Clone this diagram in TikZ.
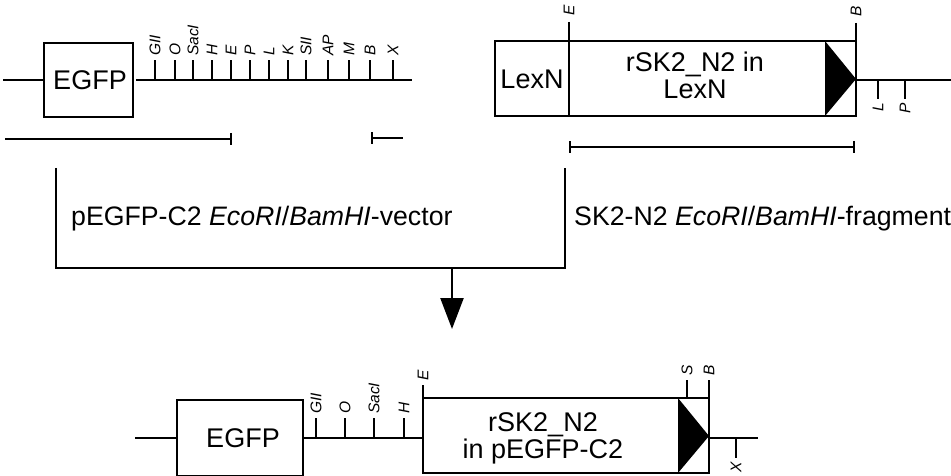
\documentclass[tikz,border=0pt]{standalone}
\usepackage{fontspec}
\setmainfont{Liberation Sans}
\usetikzlibrary{arrows.meta}
\tikzset{
    partbox/.style={draw,line width=2.4pt,inner sep=0pt,outer sep=0pt,font=\fontsize{27}{29}\selectfont,align=center},
    sitelabel/.style={font=\fontsize{15.5}{17}\selectfont\itshape,rotate=90,inner sep=3pt},
    captionlabel/.style={font=\fontsize{26.7}{30}\selectfont,inner sep=0pt,anchor=west}
}
\begin{document}
\begin{tikzpicture}[x=1pt,y=-1pt,line width=2.4pt]
    \useasboundingbox (0,0) rectangle (951,476);
    % The vector
    \node [partbox,minimum width=89pt,minimum height=74pt] (egfp top) at (88.5,80) {\hspace{3pt}EGFP};
    \coordinate (vector start) at (3,80);
    \coordinate (vector end) at (412,80);
    \draw (vector start) -- (egfp top.west);
    \draw (egfp top.east) ++(3,0) -- (vector end);
    \foreach \x/\name in {155/GII,175/O,193/SacI,212/H,231/E,250/P,269/L,288/K,306/SII,328/AP,349/M,370/B,393/X}
        \draw (\x,80) -- (\x,60)
            node [sitelabel,anchor=west] (top \name) {\name};
    % Kept parts of the vector
    \draw [{|[width=12pt]}-{|[width=0pt]}] (232,139) coordinate (cut left) -- (3,139) coordinate (cut start);
    \draw [{|[width=12pt]}-{|[width=0pt]}] (371,138) coordinate (cut right) -- (405,138) coordinate (cut stop);
    % The insert
    \node [partbox,minimum width=361pt,minimum height=75pt] (lexn) at (675.5,78.5) {};
    \node [partbox,draw=none] (lexn name) at (532,79) {LexN};
    \node [partbox,draw=none] (insert name) at (695,75) {rSK2\_N2 in\\[-2pt]LexN};
    \fill (825,41) -- (856,79) -- (825,116) -- cycle;
    \draw (569,22) -- (569,116);
    \draw (856,23) -- (856,116);
    \node [sitelabel,anchor=west] (lexn E) at (569,20) {E};
    \node [sitelabel,anchor=west] (lexn B) at (856,21) {B};
    \coordinate (lexn end) at (951,80);
    \draw (856,80) -- (lexn end);
    \foreach \x/\name in {878/L,905/P}
        \draw (\x,80) -- (\x,99)
            node [sitelabel,anchor=east] (lexn \name) {\name};
    % The fragment
    \draw [{|[width=12pt]}-{|[width=12pt]}] (569,147) coordinate (frag left) -- (855,147) coordinate (frag right);
    % Joining the two
    \coordinate (join left) at (56,168);
    \coordinate (join right) at (565,168);
    \draw (join left) |- (300,268) -| (join right);
    \node [captionlabel] (vector text) at (70,219) {pEGFP-C2 \textit{EcoRI}/\textit{BamHI}-vector};
    \node [captionlabel] (fragment text) at (573,219) {SK2-N2 \textit{EcoRI}/\textit{BamHI}-fragment};
    \coordinate (join mid) at (452,268);
    \coordinate (join tip) at (452,329);
    \draw [-{Triangle[width=23pt,length=31pt]}] (join mid) -- (join tip);
    % The result
    \node [partbox,minimum width=126pt,minimum height=76pt] (egfp low) at (240,438) {\hspace{6pt}EGFP};
    \node [partbox,minimum width=286pt,minimum height=75pt] (result) at (566,435.5) {};
    \node [partbox,draw=none] (result name) at (543,438) {rSK2\_N2\\[-2pt]in pEGFP-C2};
    \fill (678,398) -- (709,436) -- (678,473) -- cycle;
    \coordinate (result start) at (135,438);
    \coordinate (result end) at (758,438);
    \draw (result start) -- (egfp low.west);
    \draw (egfp low.east) -- (result.west |- egfp low);
    \draw (result.east |- egfp low) -- (result end);
    \foreach \x/\name in {316/GII,345/O,374/SacI,404/H}
        \draw (\x,438) -- (\x,418)
            node [sitelabel,anchor=west] (low \name) {\name};
    \foreach \x/\y/\name in {423/385/E,687/380/S,709/380/B}
        \draw (\x,398) -- (\x,\y)
            node [sitelabel,anchor=west] (low \name) {\name};
    \draw (736,438) -- (736,458)
        node [sitelabel,anchor=east] (low X) {X};
\end{tikzpicture}
\end{document}
